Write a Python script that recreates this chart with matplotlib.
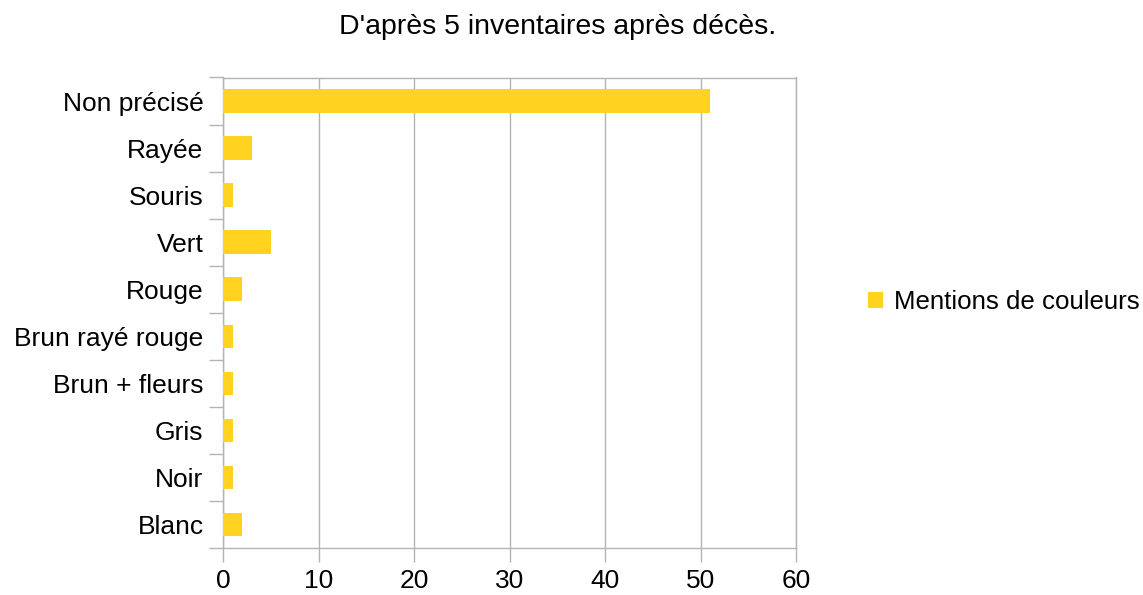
import matplotlib
matplotlib.use("Agg")
import matplotlib.pyplot as plt
from matplotlib.patches import Patch

categories = ["Non précisé", "Rayée", "Souris", "Vert", "Rouge",
              "Brun rayé rouge", "Brun + fleurs", "Gris", "Noir", "Blanc"]
values = [51, 3, 1, 5, 2, 1, 1, 1, 1, 2]
series_name = "Mentions de couleurs"
title = "D'après 5 inventaires après décès."
xticks = [0, 10, 20, 30, 40, 50, 60]

plt.rcParams['font.family'] = ['Liberation Sans', 'DejaVu Sans']
W, H = 1143, 595
fig = plt.figure(figsize=(W / 100, H / 100), dpi=100)
ax = fig.add_axes([223 / W, 1 - 548 / H, (796 - 223) / W, (548 - 77.5) / H])

color = "#FFD320"
ypos = list(range(len(categories)))
ax.barh(ypos, values, height=0.5, color=color, zorder=3)
ax.set_ylim(len(categories) - 0.5, -0.5)
ax.set_yticks(ypos)
ax.set_yticklabels(categories, fontsize=19)
ax.set_yticks([i - 0.5 for i in range(len(categories) + 1)], minor=True)
ax.tick_params(axis='y', which='major', length=0, pad=14)
ax.tick_params(axis='y', which='minor', length=10, color="#b3b3b3", width=1)
ax.set_xlim(0, 60)
ax.set_xticks(xticks)
ax.set_xticklabels([str(t) for t in xticks], fontsize=19)
ax.tick_params(axis='x', length=10, color="#b3b3b3", width=1, pad=5)
ax.grid(axis='x', color="#b3b3b3", linewidth=1, zorder=0)
for s in ax.spines.values():
    s.set_color("#b3b3b3")
    s.set_linewidth(1)

fig.text(558 / W, 1 - 27 / H, title, ha='center', va='center', fontsize=20.5)

handle = Patch(facecolor=color, edgecolor='none')
fig.legend([handle], [series_name], loc='center left',
           bbox_to_anchor=(860 / W, 1 - 302 / H), frameon=False, fontsize=18.6,
           handlelength=0.6, handleheight=0.6, handletextpad=0.4,
           borderaxespad=0, borderpad=0.3)

fig.savefig("out.png", dpi=100)
